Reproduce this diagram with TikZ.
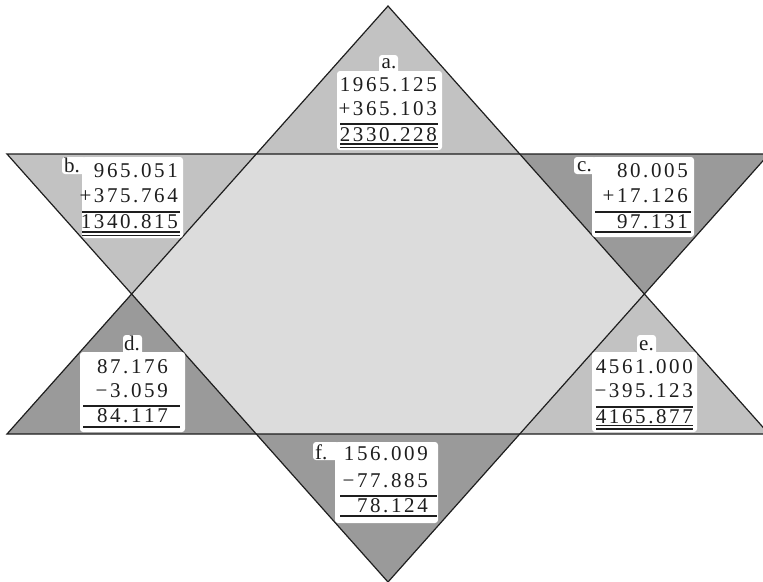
\documentclass[tikz,border=0pt]{standalone}
\usepackage{fontspec}
\setmainfont{Liberation Serif}
\definecolor{tiplight}{HTML}{C2C2C2}
\definecolor{tipdark}{HTML}{9A9A9A}
\definecolor{hexfill}{HTML}{DCDCDC}
\definecolor{ink}{HTML}{1E1E1E}
\makeatletter
\def\spaced#1{\spaced@#1\relax}
\def\spaced@#1{\ifx#1\relax\else#1\kern2.6pt\expandafter\spaced@\fi}
\makeatother
\begin{document}
\begin{tikzpicture}[x=1pt,y=-1pt,
  num/.style={font=\fontsize{21}{24}\selectfont, inner sep=0pt, anchor=base east, text=ink},
  lab/.style={font=\fontsize{21}{24}\selectfont, inner sep=0pt, anchor=base, text=ink},
  card/.style={fill=white, rounded corners=3pt},
  edge/.style={draw=ink, line width=1.2pt, line join=miter},
  sumrule/.style={draw=ink, line width=1.7pt},
  undrule/.style={draw=ink, line width=1.1pt}]
\useasboundingbox (0,0) rectangle (763,581);
\clip (0,0) rectangle (763,581);
% vertices
\coordinate (A) at (388,6);
\coordinate (BL) at (7,434);
\coordinate (BR) at (769,434);
\coordinate (TL) at (7,154);
\coordinate (TR) at (769,154);
\coordinate (D) at (388,582);
\coordinate (H1) at (256.3,154);
\coordinate (H2) at (519.7,154);
\coordinate (H3) at (644.4,294);
\coordinate (H4) at (519.7,434);
\coordinate (H5) at (256.3,434);
\coordinate (H6) at (131.6,294);
% fills
\fill[hexfill] (H1)--(H2)--(H3)--(H4)--(H5)--(H6)--cycle;
\fill[tiplight] (A)--(H2)--(H1)--cycle;
\fill[tiplight] (TL)--(H1)--(H6)--cycle;
\fill[tipdark] (H2)--(TR)--(H3)--cycle;
\fill[tipdark] (H6)--(H5)--(BL)--cycle;
\fill[tiplight] (H3)--(BR)--(H4)--cycle;
\fill[tipdark] (H5)--(H4)--(D)--cycle;
% outlines
\draw[edge] (A)--(BR)--(BL)--cycle;
\draw[edge] (TL)--(TR)--(D)--cycle;

% ---- a ----
\fill[card] (379,55) rectangle (398,74);
\fill[card] (337,71) rectangle (442,150);
\node[lab] (la) at (389,68) {a.};
\node[num] (a1) at (439.6,91) {\spaced{1965.125}};
\node[num] (a2) at (439.6,115) {\spaced{+365.103}};
\node[num] (a3) at (439.6,141) {\spaced{2330.228}};
\draw[sumrule] (340,124) -- (438,124);
\draw[undrule] (340,144) -- (438,144);
\draw[undrule] (340,147.5) -- (438,147.5);

% ---- b ----
\fill[card] (62,157) rectangle (86,174);
\fill[card] (82,157) rectangle (183,238);
\node[lab, anchor=base west] (lb) at (64,172) {b.};
\node[num] (b1) at (180.6,177) {\spaced{965.051}};
\node[num] (b2) at (180.6,202) {\spaced{+375.764}};
\node[num] (b3) at (180.6,228) {\spaced{1340.815}};
\draw[sumrule] (82,212) -- (180,212);
\draw[undrule] (82,232) -- (180,232);
\draw[undrule] (82,235.5) -- (180,235.5);

% ---- c ----
\fill[card] (574,157) rectangle (596,174);
\fill[card] (592,157) rectangle (694,237);
\node[lab, anchor=base west] (lc) at (577,171) {c.};
\node[num] (c1) at (690.6,177) {\spaced{80.005}};
\node[num] (c2) at (690.6,202) {\spaced{+17.126}};
\node[num] (c3) at (690.6,228) {\spaced{97.131}};
\draw[sumrule] (595,212) -- (691,212);
\draw[sumrule] (595,232) -- (691,232);

% ---- d ----
\fill[card] (123,335) rectangle (142,356);
\fill[card] (80,352) rectangle (185,432);
\node[lab] (ld) at (132,350) {d.};
\node[num] (d1) at (170.6,373) {\spaced{87.176}};
\node[num] (d2) at (170.6,397) {\spaced{−3.059}};
\node[num] (d3) at (170.6,422) {\spaced{84.117}};
\draw[sumrule] (83,406) -- (180,406);
\draw[sumrule] (83,427) -- (180,427);

% ---- e ----
\fill[card] (637,335) rectangle (656,356);
\fill[card] (592,352) rectangle (697,432);
\node[lab] (le) at (646.5,350) {e.};
\node[num] (e1) at (695.6,373) {\spaced{4561.000}};
\node[num] (e2) at (695.6,397) {\spaced{−395.123}};
\node[num] (e3) at (695.6,423) {\spaced{4165.877}};
\draw[sumrule] (596,407) -- (693,407);
\draw[undrule] (596,425.5) -- (693,425.5);
\draw[undrule] (596,429) -- (693,429);

% ---- f ----
\fill[card] (313,442) rectangle (339,460);
\fill[card] (335,442) rectangle (438,523);
\node[lab, anchor=base west] (lf) at (315,459) {f.};
\node[num] (f1) at (430.6,460) {\spaced{156.009}};
\node[num] (f2) at (430.6,487) {\spaced{−77.885}};
\node[num] (f3) at (430.6,512) {\spaced{78.124}};
\draw[sumrule] (340,496) -- (437,496);
\draw[sumrule] (340,516) -- (437,516);
\end{tikzpicture}
\end{document}
